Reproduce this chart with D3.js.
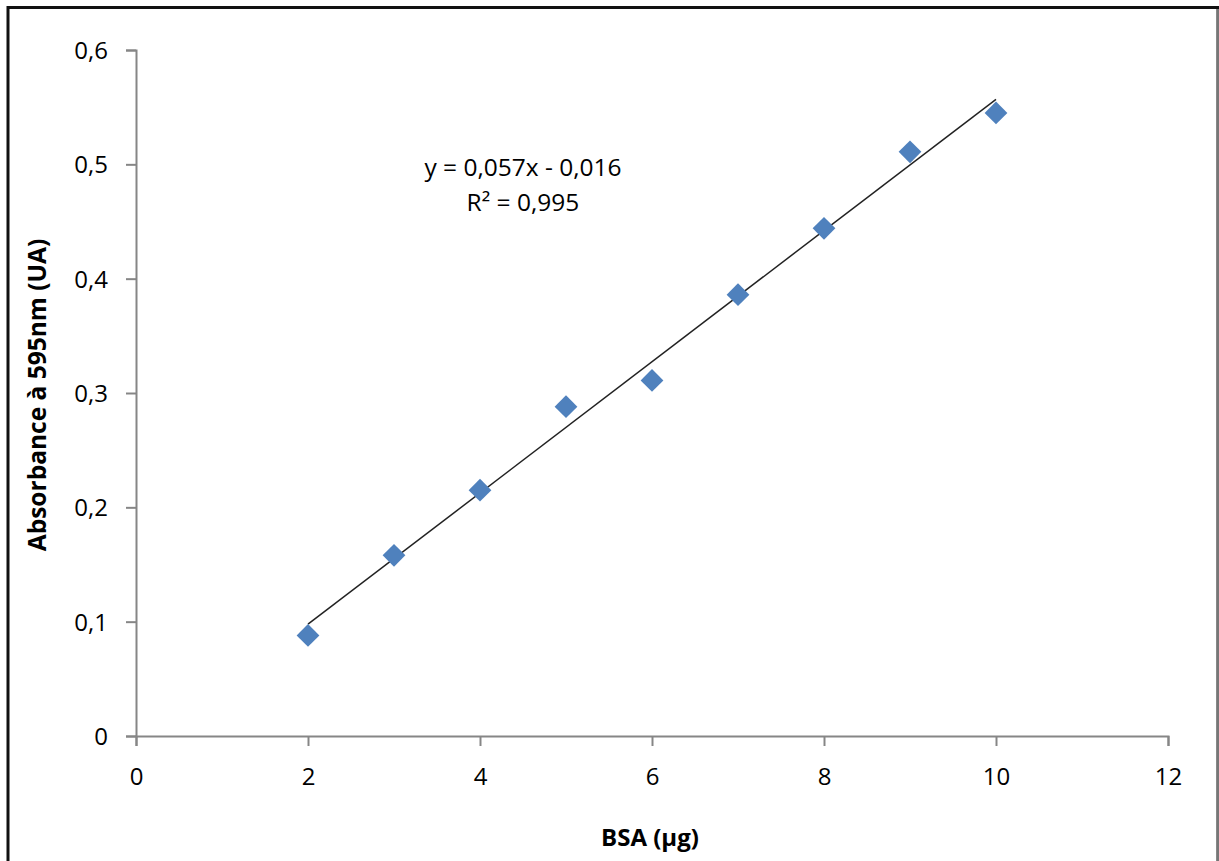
<!DOCTYPE html>
<html>
<head>
<meta charset="utf-8">
<script src="https://cdn.jsdelivr.net/npm/d3@7"></script>
<style>
  body { margin: 0; background: #fff; }
  svg { display: block; }
  text { font-family: "Open Sans", "Liberation Sans", sans-serif; }
</style>
</head>
<body>
<div class="demo"></div>
<script>
// données
var bsa = [2, 3, 4, 5, 6, 7, 8, 9, 10];
var absorbance = [0.088, 0.158, 0.215, 0.288, 0.311, 0.386, 0.444, 0.511, 0.545];
var xTicks = [0, 2, 4, 6, 8, 10, 12];
var yTicks = [0, 0.1, 0.2, 0.3, 0.4, 0.5, 0.6];
var equationLines = ['y = 0,057x - 0,016', 'R² = 0,995'];

var w = 1219, h = 861;
var svg = d3.select('.demo').append('svg').attr('width', w).attr('height', h);

// cadre
svg.append('rect').attr('x', 8).attr('y', 7.5).attr('width', 1210).attr('height', 870)
  .attr('fill', 'white').attr('stroke', '#111').attr('stroke-width', 3);
svg.append('line').attr('x1', 1218).attr('x2', 1218).attr('y1', 9).attr('y2', h)
  .attr('stroke', '#ddd').attr('stroke-width', 1);

var xScale = d3.scaleLinear().domain([0, 12]).range([136, 1168]);
var yScale = d3.scaleLinear().domain([0, 0.6]).range([736, 50]);

var fr = d3.formatLocale({decimal: ',', thousands: ' ', grouping: [3], currency: ['', '€']});
var fmtY = function(d){ return d === 0 ? '0' : fr.format('.1f')(d); };

// axe Y
var yAxis = svg.append('g').attr('transform', 'translate(136,0)')
  .call(d3.axisLeft(yScale).tickValues(yTicks).tickFormat(fmtY).tickSizeInner(10).tickSizeOuter(10).tickPadding(18));
// axe X
var xAxis = svg.append('g').attr('transform', 'translate(0,736)')
  .call(d3.axisBottom(xScale).tickValues(xTicks).tickSizeInner(10).tickSizeOuter(10).tickPadding(22));

[yAxis, xAxis].forEach(function(g){
  g.select('.domain').attr('stroke', '#868686').attr('stroke-width', 2);
  g.selectAll('.tick line').attr('stroke', '#868686').attr('stroke-width', 2);
  g.selectAll('.tick text').attr('fill', '#000').attr('font-size', '24px')
    .attr('font-family', '"Open Sans", "Liberation Sans", sans-serif');
});
yAxis.selectAll('.tick text').attr('dy', '0.35em');
xAxis.selectAll('.tick text').attr('dy', '0.71em');

// courbe de tendance (moindres carrés)
var mx = d3.mean(bsa), my = d3.mean(absorbance);
var sxy = d3.sum(bsa, function(x, i){ return (x - mx) * (absorbance[i] - my); });
var sxx = d3.sum(bsa, function(x){ return (x - mx) * (x - mx); });
var slope = sxy / sxx, intercept = my - slope * mx;
var xr = d3.extent(bsa);
svg.append('line')
  .attr('x1', xScale(xr[0])).attr('y1', yScale(slope * xr[0] + intercept))
  .attr('x2', xScale(xr[1])).attr('y2', yScale(slope * xr[1] + intercept))
  .attr('stroke', '#222').attr('stroke-width', 1.5);

// points (losanges)
var diamond = d3.symbol().type(d3.symbolDiamond2).size(330);
svg.selectAll('path.pt').data(bsa).enter()
  .append('path').attr('class', 'pt')
  .attr('d', diamond)
  .attr('transform', function(d, i){ return 'translate(' + xScale(d) + ',' + yScale(absorbance[i]) + ')'; })
  .attr('fill', '#4F81BD');

// équation
svg.append('g').selectAll('text').data(equationLines).enter()
  .append('text')
  .text(function(d){ return d; })
  .attr('x', 523)
  .attr('y', function(d, i){ return 176 + i * 35; })
  .attr('text-anchor', 'middle')
  .attr('font-size', '24.5px')
  .attr('fill', '#000');

// titres des axes
svg.append('text').text('BSA (µg)')
  .attr('x', 650).attr('y', 846).attr('text-anchor', 'middle')
  .attr('font-size', '24px').attr('font-weight', 'bold').attr('fill', '#000');
svg.append('text').text('Absorbance à 595nm (UA)')
  .attr('transform', 'translate(46,395) rotate(-90)').attr('text-anchor', 'middle')
  .attr('font-size', '24.5px').attr('font-weight', 'bold').attr('fill', '#000');
</script>
</body>
</html>
